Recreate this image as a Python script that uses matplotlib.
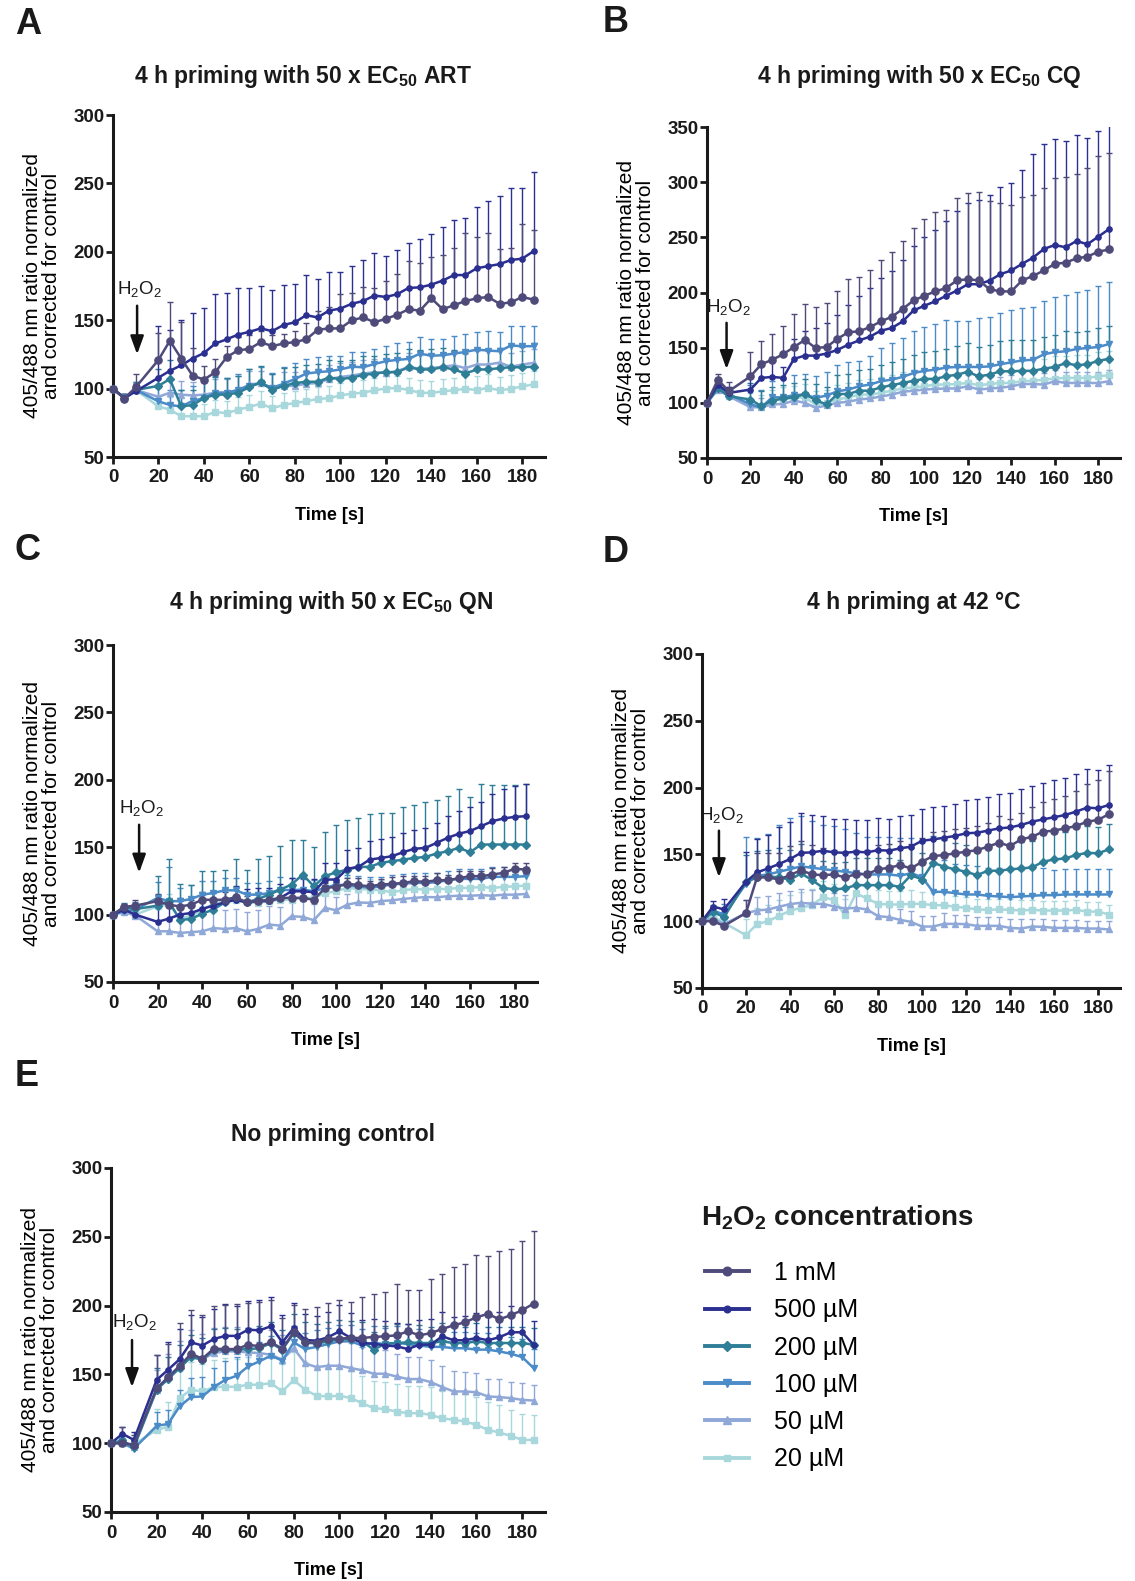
import numpy as np
import matplotlib
matplotlib.use("Agg")
import matplotlib.pyplot as plt
from matplotlib.lines import Line2D

plt.rcParams['font.family'] = ['Liberation Sans', 'DejaVu Sans']
plt.rcParams['mathtext.fontset'] = 'custom'
plt.rcParams['mathtext.rm'] = 'Liberation Sans'
plt.rcParams['mathtext.bf'] = 'Liberation Sans:bold'
plt.rcParams['mathtext.it'] = 'Liberation Sans:italic'

# time points (s); no reading at 15 s (H2O2 added)
time = [0, 5, 10, 20, 25, 30, 35, 40, 45, 50, 55, 60, 65, 70, 75, 80, 85, 90, 95, 100,
        105, 110, 115, 120, 125, 130, 135, 140, 145, 150, 155, 160, 165, 170, 175, 180, 185]

labels = ['1 mM', '500 µM', '200 µM', '100 µM', '50 µM', '20 µM']
colors = ['#4e4a7a', '#2a2f90', '#2f7e98', '#4a8bc8', '#8fa8d8', '#a8d8dc']

# ---------------- panel A (ART) ----------------
A_1mM = [100,92.7,101,121,135,122,109.5,106.6,112,123,128,129,134,131,133,134,136,143,144,144,
         150,152,148.5,151,154,158,157,166,158,161,164,166,167,162,163,167,165]
A_1mM_sd = [0,3,10,20,28,27,20,10,10,8,10,10,8,8,7,8,12,14,16,25,
            20,22,25,28,30,35,35,30,40,42,50,45,47,40,40,53,51]
A_500 = [100,93,98,108,113,117,122,126,133,136,139.5,141.5,144,142,146.5,148.5,153.7,152,157,158.5,
         162,164,168,167,169,173.6,174,176,179,183,183,188,189.5,191,194,195,200.5]
A_500_sd = [0,3,5,38,30,33,33,33,36,34,34,32,31,30,29,28,29,28,28,27,
            27.5,30,31,30,32,33,35,36.7,39,40,42,45,47.5,50,53,52,57.5]
A_200 = [100,93,99,102,107,87,88,93,95.6,95.6,97,101,104.6,99,102,104,105,105,108,107,
         108,110,111,112,112,115.6,114,114,115.6,114,111,114,114,115,115.6,115.6,116]
A_200_sd = [0,3,6,12,14,12,11,12,13,12,12,13,12,12,13,12,12,13,13,13,
            13,14,13,13,14,13,14,15,14,14,15,15,14,15,16,15,17]
A_100 = [100,93,99,90.7,88,87,91,93,97,97,99,102,104,100.5,103.6,107,111,112,112.7,114,
         116,115.6,118,120,121,121.7,125.6,124,124.4,125.6,126.8,128.5,127.8,127.3,131.5,131,131]
A_100_sd = [0,3,6,10,11,12,11,12,12,11,12,12,12,11,12,12,11,11,11,10,
            11,11,11,11,12,12,12,12,12,13,13,13,14,14,14,15,15]
A_50 = [100,93,99,94,97,95.6,95,95.6,97,97,99,103,104,100.5,102,102,103.6,104,107,108.5,
        109.5,111,112,111.5,112.7,116,114.4,115,116,117,115,117.6,117.6,119,116,117.6,118.8]
A_50_sd = [0,3,5,9,9,10,10,10,10,10,10,10,9,10,10,10,10,10,10,10,
           10,10,10,10,10,10,10,10,10,10,10,10,10,10,10,10,10]
A_20 = [100,93,99,87,84.6,79.8,79.8,79.8,83,82,84.6,86.6,89,85.6,88,89.5,90.7,92.4,93,95,
        96.3,97,98.8,100,100.5,99,97,96.8,98,98.8,99.8,99,100.5,98.8,99.8,101.7,103]
A_20_sd = [0,3,5,8,9,10,10,9,9,9,9,9,9,9,9,9,9,9,9,9,
           9,9,9,9,9,9,9,9,9,9,10,10,10,10,10,10,10]

# ---------------- panel B (CQ) ----------------
B_1mM = [100,121,110.5,124,135,139,144,150.6,157,149.7,150.6,158,164,164.8,168.7,173.8,178,185,192.8,197,
         201,204,211,212,211,203,201,201,211,215,220,226,227,231,232.5,237,239]
B_1mM_sd = [0,5,8,22,21,23,26,30,33,37,40,43,48,49,52,56,59,62,66,70,
            72,71,75,78,80,80,80,78,76,73,75,78,78,76,80,87,87]
B_500 = [100,116.6,109,112,122.6,123.5,122.6,139.8,142.8,142.8,144.6,148,152.7,156.6,160,165.4,167.8,173.8,183.7,188,
         192,197,201.8,207.5,207.5,210.8,216.6,220,226,231.6,239.5,243,241,246.7,243.7,250.6,257.5]
B_500_sd = [0,6,5,12,15,18,10,18,22,25,28,32,36,40,44,48,52,56,58,62,
            65,68,72,74,76,78,79,79,85,94,95,96,96,96,96,96,100]
B_200 = [100,113,106,103,97,102,104,105,108,102.4,98.5,108,108,111,111,114,116,118,120,121.7,
         121.7,124,125.6,128,124,125.6,128.6,128.6,129,129,131,132.5,136,134,135,138,140]
B_200_sd = [0,4,6,15,14,12,12,13,14,15,16,17,18,19,20,20,21,22,23,24,
            25,25,26,26,27,27,27,28,28,28,29,29,29,30,30,30,30]
B_100 = [100,115,108,98.5,96,105,105,107,107.5,104.5,106.6,110.5,112,115,116.6,119.6,121,123.5,127,129,
         130,132,132.5,132.5,132.5,133,135,136.7,138.5,139,144,146,146.7,148.8,149.7,150.6,153.3]
B_100_sd = [0,5,6,18,16,15,17,18,19,20,21,24,25,23,26,30,33,35,38,40,
            41,43,42,42,44,45,46,47,47,48,48,50,51,52,53,55,56]
B_50 = [100,112,106,96,96,98.5,99,102,100,95.5,97.6,100,101,103,104,105.7,107.5,110,111,112,
        112.6,113,113,115,112,113,113.6,115,117,117,116.6,119.6,118,118,118,118,119.6]
B_50_sd = [0,4,5,8,8,8,8,8,9,9,9,9,9,9,9,9,9,9,9,10,
           10,10,10,10,10,10,10,10,10,10,10,10,10,10,10,10,10]
B_20 = [100,113.5,107.5,98.5,97,102,103,104.5,105,98.5,100,103,105,107.5,107.5,109,111,113,114,115,
        116.6,116.6,117,118,116,117,118,118,119.6,120,121,122,122.6,122.6,122.6,124,125]
B_20_sd = [0,4,6,10,10,10,11,11,12,12,12,13,13,13,14,14,14,15,15,15,
           16,16,16,17,17,17,18,18,18,19,19,20,20,21,21,22,22]

# ---------------- panel C (QN) ----------------
C_1mM = [100,105.7,106.7,110,107.4,106,107.4,111,111,111,112.9,109,110,111,112.4,112.4,112.4,111,119.8,120.5,
         123,121.8,121,122.3,122.8,123.5,124.8,124.3,125.5,125.5,127,128.5,128.5,129.7,131,134,133.4]
C_1mM_sd = [0,2,4,5,4,6,5,6,5,6,5,5,6,5,6,5,5,5,4,4,
            4,5,4,4,5,5,4,4,5,4,5,4,4,5,4,4,5]
C_500 = [100,103.7,100,94.6,97,100,101.2,104.2,106.7,109,111,109,110,110,112.4,117.3,117.3,116.6,126,126,
         134,135.4,140.8,142,143.3,146.3,148.8,149.5,153.2,157,160,162,165.6,169.3,171.3,172.5,173]
C_500_sd = [0,3,5,14,12,10,10,10,10,10,10,10,10,10,10,10,10,10,12,12,
            14,14,14,14,14,14,14,15,15,16,17,18,18,20,22,23,24]
C_200 = [100,105.7,104,106.7,110,96,96.8,100.7,103.7,109,111.6,109,111.6,114.8,118.6,122.3,129.7,121,128.5,131.4,
         133.4,135.4,135.4,138.4,139.6,140.8,142,142.8,145.3,147,149.5,146.3,152,152,152,152,152]
C_200_sd = [0,3,5,22,31,27,25,32,29,24,30,24,30,29,32,33,26,29,33,35,
            37,36,39,37,36,39,39,41,40,41,44,41,45,44,44.5,44.5,45]
C_100 = [100,102.5,103.7,112.4,110,110,111.6,114.8,116,118,118,114.8,114.8,116,118.6,118,118.6,117.3,119.8,122.3,
         121.5,121,119.8,121,122.3,123,123.5,123.5,124,125.5,126.5,126.5,126.5,128,128,128,128.5]
C_100_sd = [0,3,5,12,25,10,10,10,9,9,9,9,9,9,9,9,8,8,8,8,
            8,8,8,7,7,7,7,7,7,7,7,7,7,7,7,7,7]
C_50 = [100,101.7,99.3,87.6,87.6,86.4,87,87.6,90,89.4,90,87.6,89.4,92.6,91.8,98.8,98.3,95.8,105,103.2,
        107.4,109,108.7,110,110.6,111.6,112.4,113,112.9,113.6,114,114,114.4,114,114.8,114.8,115.3]
C_50_sd = [0,3,4,8,8,10,12,12,12,14,14,14,14,14,14,12,12,12,10,10,
           8,8,8,8,8,7,7,7,7,7,7,7,7,7,7,7,7]
C_20 = [100,102.5,100,106.2,107.4,97.5,98.8,103.7,108,110,110.6,109,108.7,110,111,111,112.4,112.4,116,117.3,
        119.8,119,118.6,118,116.6,118,119,118.6,119,119,119.8,119.8,120.5,119.8,120.5,121,121.5]
C_20_sd = [0,3,4,8,8,8,8,8,8,8,8,8,8,8,8,8,8,8,8,8,
           8,8,8,8,8,8,8,8,8,8,8,8,8,8,8,8,8]

# ---------------- panel D (42 °C) ----------------
D_1mM = [100,100,96.5,106.2,132.8,132.8,131.2,134.5,138.2,135,134.5,135,132.8,135.2,135.2,138.8,140,142,139.5,144.5,
         148.8,149.5,150.8,152,153.2,155.8,158.8,156.2,161.2,163.2,167,167.8,169.5,171.2,174.5,175.8,180.2]
D_1mM_sd = [0,3,5,10,18,18,20,22,22,22,20,18,18,18,18,18,18,18,18,18,
            18,18,18,18,18,18,20,20,20,22,22,24,24,26,28,30,32]
D_500 = [100,111,108.8,129.5,136.5,139.5,142.8,146.5,151.2,151.5,152.8,151.5,151.2,152,151.5,153.2,152.8,154.5,155.8,160.2,
         161.2,162.5,163.8,165.8,166.2,167.8,169.5,170.2,172,174.5,176.2,177.8,179.5,182,185,184.5,187]
D_500_sd = [0,4,8,22,25,25,28,28,30,28,26,25,25,24,24,24,24,24,24,24,
            24,24,24,25,25,25,26,26,27,27,27,28,28,28,29,29,30]
D_200 = [100,107,103,129.5,132.8,133.5,132.8,131,135.8,130.8,125,123.8,124.5,127,127,127,127,125.8,134.5,131.2,
         143.8,140.8,138.8,137,134.5,137.8,137.8,138.8,139.5,140.2,144.5,146.2,147,149.5,151.2,150.8,153.8]
D_200_sd = [0,4,6,20,20,20,22,22,22,20,20,20,20,20,20,20,20,20,20,20,
            20,20,20,20,20,20,20,20,20,20,20,20,20,20,20,20,19]
D_100 = [100,108,105,128,134,135,137,139,141,140,139,138,137,136,135,135,135,134,136,133,
         122,122,121,120,120,119,118.5,118,118.5,119,119.5,119.5,120,120,120,120,120]
D_100_sd = [0,4,8,35,28,30,35,38,38,35,33,33,32,30,28,28,28,28,26,26,
            25,24,22,22,21,21,21,20,20,20,20,19,19,19,19,19,19]
D_50 = [100,102,97.8,106,108,108.8,110.8,112.8,113.8,113,113,111,109.5,110,108.8,103.8,103,101,99.5,96,
        96,98,98,97.8,96.5,96.5,96.5,95,94.5,96,95.8,95,95,95,94.5,94.5,93.8]
D_50_sd = [0,3,4,10,10,10,10,10,10,10,10,10,10,10,10,8,8,8,8,8,
           8,8,7,7,7,7,7,7,7,6,6,6,6,6,6,6,6]
D_20 = [100,103.8,98.8,89.5,97.8,100,104,107.8,110,112,118,115.8,104.5,120.8,117,113,112.5,112.5,113,113,
        112,112,110.8,110,108.8,108.5,108.8,108.5,108,108.5,108,108,108,108.5,107.2,107.2,105]
D_20_sd = [0,3,5,12,12,12,12,12,12,12,12,12,12,12,10,10,10,10,10,9,
           9,9,8,8,8,8,8,8,8,7,7,7,7,7,7,7,7]

# ---------------- panel E (no priming) ----------------
E_1mM = [100,100,99,140,147.8,156,165,161.4,168.7,168.4,168.4,171.6,170.4,173.3,168.7,180.6,173.5,172.8,175.7,176,
         176.5,176.5,177.2,177.7,178.4,181.3,178.4,180,183,185.7,187.9,191.5,194,190,193,196.6,201.5]
E_1mM_sd = [0,12,7,24,24,31,32,32,31,32,33,30,32,31,22,20,24,26,26,28,
            26,30,31,32,37,30,33,39,40,42,42,45,42,50,48,50,53]
E_500 = [100,106.8,102.4,146,153.4,161,173.3,171,175.7,178,178,182.5,182,185,173.3,183.7,175,174.5,177,181.3,
         176.5,172.8,172.3,171,170.4,168.4,171.6,171.6,177.7,174.8,174.8,176.5,174.8,177,180.6,180.6,171.6]
E_500_sd = [0,5,6,18,20,22,20,21,22,23,22,21,22,21,20,18,19,18,18,19,
            18,17,18,18,17,18,18,19,18,17,18,18,17,18,19,18,17]
E_200 = [100,102,97,139,146.6,154.6,162.6,160.7,168,167.5,168,168.4,169,172.8,168,180,173.3,172.3,174,175.7,
         175.7,174,168,172.3,172.8,173.3,172.8,172.8,174,172.8,172.8,174,172.8,172.8,172.8,172.8,171.6]
E_200_sd = [0,4,5,16,16,17,16,16,15,16,15,15,16,15,14,14,15,14,14,14,
            13,14,13,13,14,13,13,12,13,12,12,13,12,12,12,12,12]
E_100 = [100,100,96,112.6,114,126.7,133.5,134,140.8,146,149,155.8,159.5,163.6,160,173.3,168.4,170,172,174,
         174,171,173,172,173,172,171,170,170,169,169,168,168,166.7,165,162.6,154.6]
E_100_sd = [0,4,5,10,10,12,14,14,14,14,14,14,14,14,12,12,12,12,12,12,
            12,12,12,12,12,12,12,12,12,12,12,12,12,12,12,13,14]
E_50 = [100,100,97,139,148.5,156,164,161,165.5,166.7,166.7,166,165.5,164.3,160.7,169,158,155.3,156.3,156.3,
        154.6,153,150.5,150.5,148.5,146.6,146.6,144.4,140.8,137.6,137.6,137,134,133.5,132.8,131.5,131]
E_50_sd = [0,4,5,14,16,18,18,18,18,18,18,18,18,18,18,16,18,18,18,18,
           18,17,17,17,16,16,16,16,15,15,14,14,13,13,12,12,11]
E_20 = [100,100,99,109.7,112,132.8,138.8,137.6,140.8,141,141,142.5,142.5,143.7,137.6,146,138.8,134.5,134,134.5,
        132.8,129,125.5,124.8,123,121.8,121.8,120.6,118,117,115.8,113.3,109.7,107.8,105.3,102.4,102.4]
E_20_sd = [0,4,5,15,18,20,20,20,20,21,20,20,21,20,20,20,20,20,20,20,
           20,20,20,20,20,20,20,20,20,20,20,20,20,20,19,19,18]

markers = ['o', 'o', 'D', 'v', '^', 's']
msizes = [5.2, 3.8, 3.6, 4.2, 4.2, 3.8]

W, H = 1135, 1581
fig = plt.figure(figsize=(W / 100, H / 100), dpi=100)


def px_axes(left, right, top, bottom):
    return fig.add_axes([left / W, 1 - bottom / H, (right - left) / W, (bottom - top) / H])


def draw_panel(ax, series, sds, ymax, title, letter, letter_xy, title_xy, arrow):
    t = np.array(time)
    # draw weakest first so 1 mM ends on top
    for i in range(5, -1, -1):
        y = np.array(series[i], dtype=float)
        sd = np.array(sds[i], dtype=float)
        c = colors[i]
        top = y + sd
        ax.vlines(t[1:], y[1:], top[1:], color=c, lw=1.0, zorder=2)
        ax.plot(t[1:], top[1:], ls='none', marker='_', ms=5, mew=1.0, color=c, zorder=2)
        ax.plot(t, y, color=c, lw=1.8, marker=markers[i], ms=msizes[i],
                mec=c, mfc=c, zorder=10 - i, clip_on=False)
    ax.set_xlim(0, 190)
    ax.set_ylim(50, ymax)
    ax.set_xticks(range(0, 181, 20))
    ax.set_yticks(range(50, ymax + 1, 50))
    for s in ['top', 'right']:
        ax.spines[s].set_visible(False)
    for s in ['left', 'bottom']:
        ax.spines[s].set_linewidth(2.2)
        ax.spines[s].set_color('#1a1a1a')
    ax.tick_params(width=2, length=5, labelsize=13.5, colors='#1a1a1a')
    ax.tick_params(axis='x', pad=4)
    ax.tick_params(axis='y', pad=1)
    for lab in ax.get_xticklabels() + ax.get_yticklabels():
        lab.set_fontweight('bold')
    ax.set_xlabel('Time [s]', fontsize=13, fontweight='bold', labelpad=15)
    ax.set_ylabel('405/488 nm ratio normalized\nand corrected for control', fontsize=15, labelpad=9,
                  linespacing=1.0)
    fig.text(title_xy[0] / W, 1 - title_xy[1] / H, title, fontsize=16.5, fontweight='bold',
             ha='center', va='center', color='#1a1a1a')
    fig.text(letter_xy[0] / W, 1 - letter_xy[1] / H, letter, fontsize=26, fontweight='bold',
             ha='left', va='center', color='#1a1a1a')
    ax_x, txt_y, a_top, a_bot = arrow
    ax.annotate('', xy=(ax_x, a_bot), xytext=(ax_x, a_top),
                arrowprops=dict(arrowstyle='-|>,head_width=0.4,head_length=1.1', lw=1.8, color='#111111'))
    ax.text(ax_x + 1, txt_y, 'H$_2$O$_2$', fontsize=13.5, ha='center', va='center', color='#1a1a1a')


axA = px_axes(113, 545, 115, 457)
draw_panel(axA, [A_1mM, A_500, A_200, A_100, A_50, A_20],
           [A_1mM_sd, A_500_sd, A_200_sd, A_100_sd, A_50_sd, A_20_sd], 300,
           '4 h priming with 50 x EC$_\\mathbf{50}$ ART', 'A', (15, 24), (303, 77),
           (10.6, 172.8, 162.6, 123))

axB = px_axes(707, 1120, 127, 458)
draw_panel(axB, [B_1mM, B_500, B_200, B_100, B_50, B_20],
           [B_1mM_sd, B_500_sd, B_200_sd, B_100_sd, B_50_sd, B_20_sd], 350,
           '4 h priming with 50 x EC$_\\mathbf{50}$ CQ', 'B', (603, 23), (919, 76),
           (9, 187, 175, 128))

axC = px_axes(113, 537, 645, 982)
draw_panel(axC, [C_1mM, C_500, C_200, C_100, C_50, C_20],
           [C_1mM_sd, C_500_sd, C_200_sd, C_100_sd, C_50_sd, C_20_sd], 300,
           '4 h priming with 50 x EC$_\\mathbf{50}$ QN', 'C', (15, 550), (331, 602),
           (11.7, 179, 168.7, 129))

axD = px_axes(702, 1120, 654, 988)
draw_panel(axD, [D_1mM, D_500, D_200, D_100, D_50, D_20],
           [D_1mM_sd, D_500_sd, D_200_sd, D_100_sd, D_50_sd, D_20_sd], 300,
           '4 h priming at 42 °C', 'D', (603, 552), (914, 602),
           (7.7, 179.5, 169.8, 130.8))

axE = px_axes(111, 545, 1168, 1512)
draw_panel(axE, [E_1mM, E_500, E_200, E_100, E_50, E_20],
           [E_1mM_sd, E_500_sd, E_200_sd, E_100_sd, E_50_sd, E_20_sd], 300,
           'No priming control', 'E', (15, 1077), (333, 1135),
           (9.2, 188, 177, 138.7))

# legend
fig.text(701 / W, 1 - 1218 / H, 'H$_\\mathbf{2}$O$_\\mathbf{2}$ concentrations', fontsize=20,
         fontweight='bold', ha='left', va='center', color='#1a1a1a')
handles = [Line2D([], [], color=colors[i], marker=markers[i], ms=msizes[i] + 1, lw=2.8)
           for i in range(6)]
fig.legend(handles, labels, loc='upper left', bbox_to_anchor=(705 / W, 1 - 1261 / H),
           frameon=False, prop={'size': 18}, handlelength=1.75, labelspacing=0.53,
           handletextpad=1.0, borderpad=0, borderaxespad=0)

fig.savefig('out.png', dpi=100)
